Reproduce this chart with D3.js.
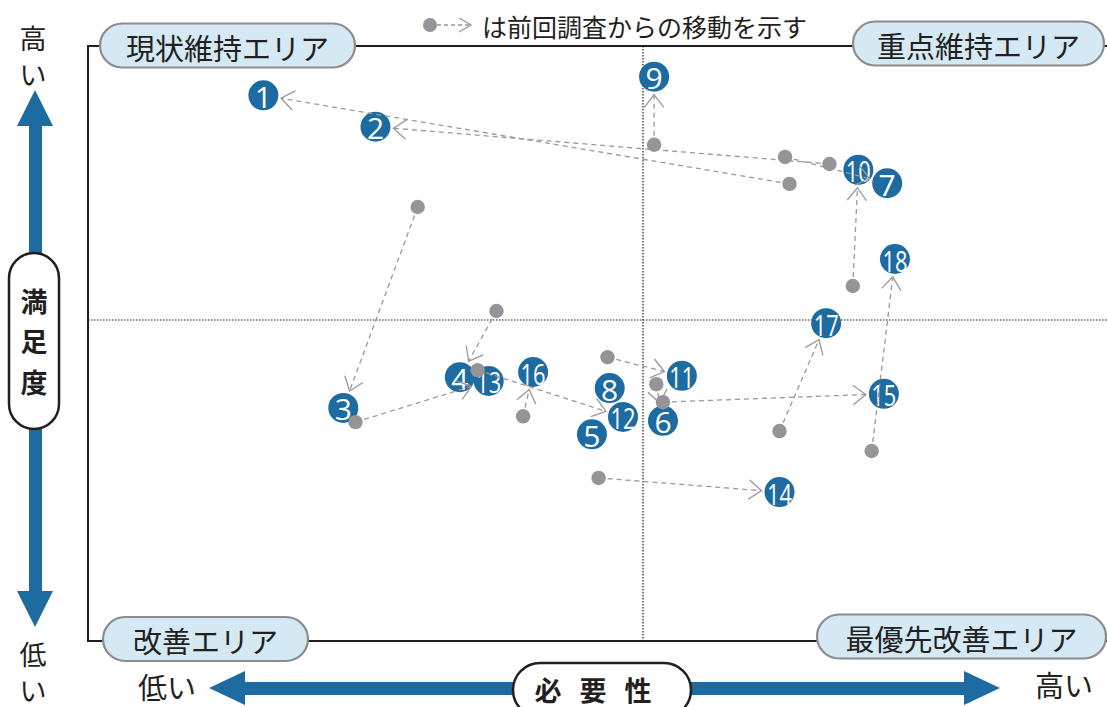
<!DOCTYPE html>
<html>
<head>
<meta charset="utf-8">
<script src="https://cdn.jsdelivr.net/npm/d3@7"></script>
<style>
html,body{margin:0;padding:0;background:#fff;}
svg{display:block;}
</style>
</head>
<body>
<div id="chart"></div>
<script>
// item numbers and positions (0-100 scale, 50 = centre line)
const ids   = [1,2,3,4,5,6,7,8,9,10,11,12,13,14,15,16,17,18];
const curX  = [15.8,25.9,23.0,33.5,45.4,51.8,72.0,47.0,51.0,69.4,53.5,48.2,36.1,62.3,71.7,40.1,66.5,72.7];
const curY  = [85.0,80.1,36.3,41.1,32.2,34.3,71.3,39.4,87.9,73.4,41.3,34.9,40.5,23.2,38.5,41.9,49.5,59.5];
// previous survey (null = new item)
const prevX = [63.2,66.8,29.7,36.8,null,51.2,62.8,null,51.0,68.9,46.8,35.1,24.1,46.0,51.8,39.2,62.3,70.6];
const prevY = [71.2,74.3,67.6,51.4,null,40.0,75.4,null,77.3,55.3,44.2,42.2,34.1,25.4,37.2,35.0,32.7,29.6];

const areaLabels = ["現状維持エリア","重点維持エリア","改善エリア","最優先改善エリア"];
const legendText = "は前回調査からの移動を示す";

const W = 1107, H = 707;
const blue = "#1e6ba1", gray = "#939598", ink = "#231f20";
const jp = "'Noto Sans CJK JP','Noto Sans',sans-serif";

const svg = d3.select("#chart").append("svg")
  .attr("width", W).attr("height", H)
  .attr("viewBox", [0,0,W,H]);

const x = d3.scaleLinear().domain([0,100]).range([88,1198]);
const y = d3.scaleLinear().domain([0,100]).range([641,-1]);

// frame
svg.append("path").attr("d", `M${W},46H88V641H${W}`)
  .attr("fill","none").attr("stroke",ink).attr("stroke-width",2);
// centre lines
svg.append("line").attr("x1",x(50)).attr("x2",x(50)).attr("y1",46).attr("y2",641)
  .attr("stroke",ink).attr("stroke-width",1.2).attr("stroke-dasharray","1.5,1.5");
svg.append("line").attr("x1",88).attr("x2",W).attr("y1",y(50)).attr("y2",y(50))
  .attr("stroke",ink).attr("stroke-width",1.2).attr("stroke-dasharray","1.5,1.5");

// area pills
const pills = [
  {t:areaLabels[0], x0:100, x1:355, cy:45.5},
  {t:areaLabels[1], x0:853, x1:1104, cy:43.5},
  {t:areaLabels[2], x0:103, x1:308, cy:639},
  {t:areaLabels[3], x0:817, x1:1106, cy:636.5}
];
const pg = svg.append("g").selectAll("g").data(pills).join("g");
pg.append("rect")
  .attr("x", d=>d.x0).attr("y", d=>d.cy-22).attr("width", d=>d.x1-d.x0).attr("height",44)
  .attr("rx",22).attr("fill","#d4e9f4").attr("stroke","#8c8c8c").attr("stroke-width",2.2);
pg.append("text")
  .attr("x", d=>(d.x0+d.x1)/2).attr("y", d=>d.cy+1)
  .attr("text-anchor","middle").attr("dominant-baseline","central")
  .attr("font-family",jp).attr("font-size",29).attr("fill",ink)
  .text(d=>d.t);

// legend
const lg = svg.append("g");
lg.append("line").attr("x1",437).attr("x2",469).attr("y1",25).attr("y2",25)
  .attr("stroke","#999").attr("stroke-width",1.3).attr("stroke-dasharray","4,3");
lg.append("path").attr("d","M459,18L471,25L459,32").attr("fill","none")
  .attr("stroke","#999").attr("stroke-width",1.3);
lg.append("circle").attr("cx",430).attr("cy",25).attr("r",7).attr("fill",gray);
lg.append("text").attr("x",482).attr("y",26).attr("dominant-baseline","central")
  .attr("font-family",jp).attr("font-size",25).attr("fill",ink).text(legendText);

// y axis arrow
svg.append("rect").attr("x",29).attr("y",115).attr("width",13).attr("height",485).attr("fill",blue);
svg.append("path").attr("d","M35,90L53,126L17,126Z").attr("fill",blue);
svg.append("path").attr("d","M35,627L53,591L17,591Z").attr("fill",blue);
svg.append("rect").attr("x",9).attr("y",253).attr("width",50).attr("height",176).attr("rx",25)
  .attr("fill","#fff").attr("stroke",ink).attr("stroke-width",2.5);
["満","足","度"].forEach((c,i)=>{
  svg.append("text").attr("x",34).attr("y",300+i*40.5).attr("text-anchor","middle")
    .attr("dominant-baseline","central").attr("font-family",jp).attr("font-weight",700)
    .attr("font-size",27).attr("fill",ink).text(c);
});
[["高",37],["い",73],["低",653],["い",689]].forEach(([c,yy])=>{
  svg.append("text").attr("x",33).attr("y",yy).attr("text-anchor","middle")
    .attr("dominant-baseline","central").attr("font-family",jp)
    .attr("font-size",27).attr("fill",ink).text(c);
});

// x axis arrow
svg.append("rect").attr("x",235).attr("y",682).attr("width",740).attr("height",13).attr("fill",blue);
svg.append("path").attr("d","M209,688L245,671L245,705Z").attr("fill",blue);
svg.append("path").attr("d","M1000,688L964,671L964,705Z").attr("fill",blue);
svg.append("rect").attr("x",513).attr("y",663).attr("width",178).attr("height",54).attr("rx",27)
  .attr("fill","#fff").attr("stroke",ink).attr("stroke-width",2.5);
svg.append("text").attr("x",602).attr("y",689).attr("text-anchor","middle")
  .attr("dominant-baseline","central").attr("font-family",jp).attr("font-weight",700)
  .attr("font-size",27).attr("letter-spacing",18).attr("fill",ink).text("必要性");
svg.append("text").attr("x",167).attr("y",686).attr("text-anchor","middle")
  .attr("dominant-baseline","central").attr("font-family",jp)
  .attr("font-size",29).attr("fill",ink).text("低い");
svg.append("text").attr("x",1064).attr("y",684).attr("text-anchor","middle")
  .attr("dominant-baseline","central").attr("font-family",jp)
  .attr("font-size",29).attr("fill",ink).text("高い");

// points
const pts = ids.map((id,i)=>({id, cx:x(curX[i]), cy:y(curY[i]),
  px: prevX[i]==null ? null : x(prevX[i]), py: prevY[i]==null ? null : y(prevY[i])}));
const moved = pts.filter(d=>d.px!=null);
const R = 15;

const nodes = svg.append("g").selectAll("g").data(pts).join("g")
  .attr("transform", d=>`translate(${d.cx},${d.cy})`);
nodes.append("circle").attr("r",R).attr("fill",blue);
nodes.append("text")
  .attr("text-anchor","middle").attr("dominant-baseline","central").attr("y",1)
  .attr("font-family","'Liberation Sans Narrow','Open Sans',sans-serif")
  .attr("font-size",30).attr("fill","#fff")
  .attr("textLength", d=>d.id>9 ? 25 : null)
  .attr("lengthAdjust","spacingAndGlyphs")
  .text(d=>d.id);

// movement lines
const tip = d=>{
  const dx=d.cx-d.px, dy=d.cy-d.py, L=Math.hypot(dx,dy);
  return {tx:d.cx-dx/L*(R+3), ty:d.cy-dy/L*(R+3), ux:dx/L, uy:dy/L};
};
const mv = svg.append("g");
mv.selectAll("line").data(moved).join("line")
  .attr("x1",d=>d.px).attr("y1",d=>d.py)
  .attr("x2",d=>tip(d).tx).attr("y2",d=>tip(d).ty)
  .attr("stroke","#999").attr("stroke-width",1.3).attr("stroke-dasharray","5,4");
mv.selectAll("path").data(moved).join("path")
  .attr("d",d=>{
    const t=tip(d), a=0.65, L=16;
    const c=Math.cos(a), s=Math.sin(a);
    const bx1=t.tx-L*(t.ux*c - t.uy*s), by1=t.ty-L*(t.uy*c + t.ux*s);
    const bx2=t.tx-L*(t.ux*c + t.uy*s), by2=t.ty-L*(t.uy*c - t.ux*s);
    return `M${bx1},${by1}L${t.tx},${t.ty}L${bx2},${by2}`;
  })
  .attr("fill","none").attr("stroke","#999").attr("stroke-width",1.3);
mv.selectAll("circle").data(moved).join("circle")
  .attr("cx",d=>d.px).attr("cy",d=>d.py).attr("r",7.2).attr("fill",gray);
</script>
</body>
</html>
